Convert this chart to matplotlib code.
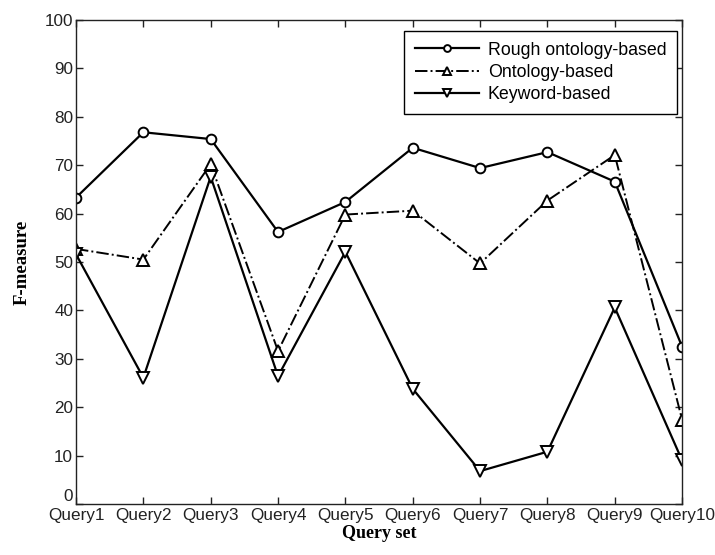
import matplotlib
matplotlib.use("Agg")
import matplotlib.pyplot as plt

queries = ["Query1", "Query2", "Query3", "Query4", "Query5",
           "Query6", "Query7", "Query8", "Query9", "Query10"]
rough_ontology = [63.3, 76.8, 75.4, 56.2, 62.4, 73.6, 69.4, 72.7, 66.6, 32.5]
ontology = [52.7, 50.5, 70.2, 31.6, 59.8, 60.6, 49.7, 62.7, 72.1, 17.4]
keyword = [51.6, 26.1, 67.6, 26.4, 52.1, 23.8, 6.8, 10.8, 40.6, 9.0]

SANS = "Liberation Sans"
SERIF = "Liberation Serif"
FS = 12.3

fig = plt.figure(figsize=(7.15, 5.55), dpi=100)
ax = fig.add_axes([0.1063, 0.0919, 0.8477, 0.8721])

x = list(range(len(queries)))
ax.plot(x, rough_ontology, color="black", lw=1.6, marker="o", ms=7,
        mfc="white", mec="black", mew=1.4, label="Rough ontology-based")
ax.plot(x, ontology, color="black", lw=1.4, ls="-.", marker="^", ms=8,
        mfc="white", mec="black", mew=1.4, label="Ontology-based")
ax.plot(x, keyword, color="black", lw=1.6, marker="v", ms=8,
        mfc="white", mec="black", mew=1.4, label="Keyword-based")

ax.set_xlim(0, len(queries) - 1)
ax.set_ylim(0, 100)
ax.set_xticks(x)
ax.set_xticklabels(queries, fontfamily=SANS, fontsize=FS)
ax.set_yticks(range(0, 101, 10))
ax.set_yticklabels([str(v) for v in range(0, 101, 10)], fontfamily=SANS, fontsize=FS)
ax.tick_params(direction="in", top=True, right=True, length=5, width=1, pad=2,
               colors="#222222")
ax.tick_params(axis="x", pad=3)
# the "0" sits on the axis line, as in the original, so it clears "Query1"
ax.get_yticklabels()[0].set_verticalalignment("bottom")
for s in ax.spines.values():
    s.set_color("#222222")
    s.set_linewidth(1)

ax.set_xlabel("Query set", fontfamily=SERIF, fontweight="bold", fontsize=13, labelpad=1)
ax.set_ylabel("F-measure", fontfamily=SERIF, fontweight="bold", fontsize=13.5, labelpad=10)

leg = ax.legend(loc="upper right", bbox_to_anchor=(677 / 715, 1 - 31 / 555),
                bbox_transform=fig.transFigure, borderaxespad=0,
                prop={"family": SANS, "size": 12.8},
                fancybox=False, framealpha=1, edgecolor="black",
                handlelength=3.6, handletextpad=0.5, labelspacing=0.3,
                borderpad=0.6, markerscale=0.7)
leg.get_frame().set_linewidth(1)

fig.savefig("out.png", dpi=100)
